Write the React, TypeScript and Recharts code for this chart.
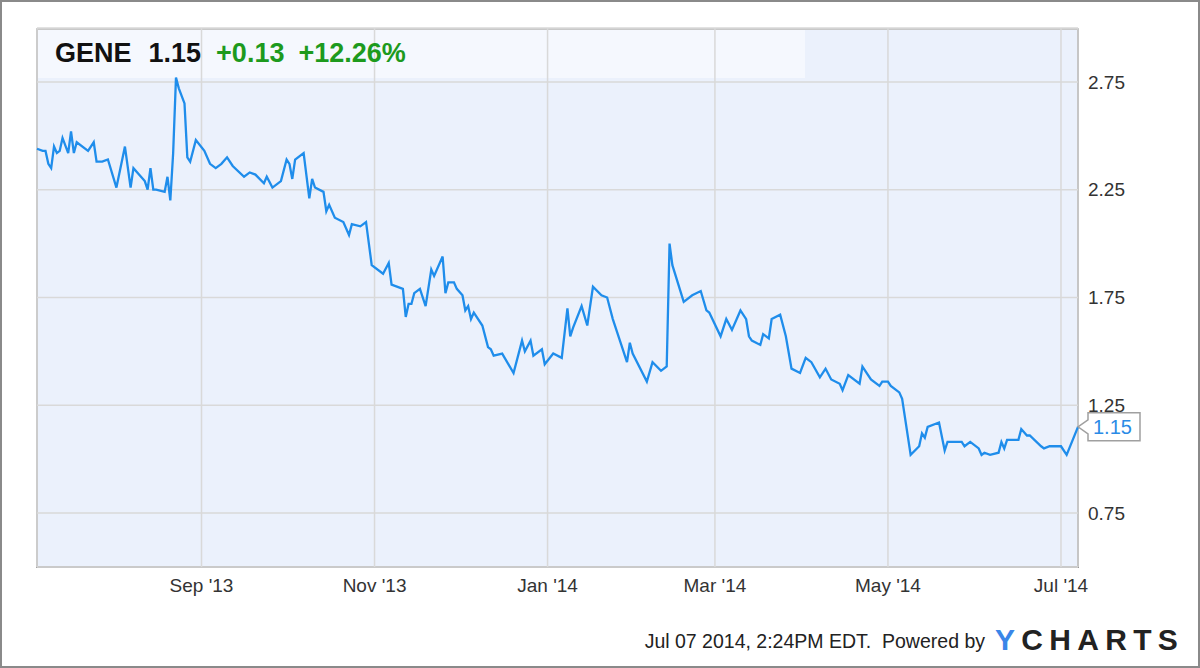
import { LineChart, Line, XAxis, YAxis, CartesianGrid, ReferenceDot } from "recharts";

const dates = [
  "2013-07-05", "2013-07-07", "2013-07-08", "2013-07-09", "2013-07-10", "2013-07-11", "2013-07-12", "2013-07-13",
  "2013-07-14", "2013-07-16", "2013-07-17", "2013-07-18", "2013-07-19", "2013-07-23", "2013-07-25", "2013-07-26",
  "2013-07-28", "2013-07-30", "2013-08-02", "2013-08-05", "2013-08-07", "2013-08-08", "2013-08-12", "2013-08-13",
  "2013-08-14", "2013-08-15", "2013-08-16", "2013-08-19", "2013-08-20", "2013-08-21", "2013-08-22", "2013-08-23",
  "2013-08-24", "2013-08-26", "2013-08-27", "2013-08-28", "2013-08-30", "2013-09-02", "2013-09-04", "2013-09-06",
  "2013-09-08", "2013-09-10", "2013-09-12", "2013-09-16", "2013-09-18", "2013-09-20", "2013-09-23", "2013-09-24",
  "2013-09-26", "2013-09-29", "2013-10-01", "2013-10-02", "2013-10-03", "2013-10-04", "2013-10-07", "2013-10-09",
  "2013-10-10", "2013-10-11", "2013-10-14", "2013-10-15", "2013-10-16", "2013-10-18", "2013-10-21", "2013-10-23",
  "2013-10-24", "2013-10-27", "2013-10-29", "2013-10-31", "2013-11-04", "2013-11-06", "2013-11-07", "2013-11-11",
  "2013-11-12", "2013-11-13", "2013-11-14", "2013-11-15", "2013-11-17", "2013-11-19", "2013-11-21", "2013-11-22",
  "2013-11-25", "2013-11-26", "2013-11-27", "2013-11-29", "2013-11-30", "2013-12-02", "2013-12-03", "2013-12-04",
  "2013-12-05", "2013-12-06", "2013-12-09", "2013-12-11", "2013-12-12", "2013-12-13", "2013-12-16", "2013-12-20",
  "2013-12-23", "2013-12-24", "2013-12-26", "2013-12-27", "2013-12-30", "2013-12-31", "2014-01-03", "2014-01-06",
  "2014-01-08", "2014-01-09", "2014-01-10", "2014-01-13", "2014-01-15", "2014-01-17", "2014-01-20", "2014-01-22",
  "2014-01-24", "2014-01-27", "2014-01-29", "2014-01-30", "2014-01-31", "2014-02-05", "2014-02-07", "2014-02-10",
  "2014-02-12", "2014-02-13", "2014-02-14", "2014-02-18", "2014-02-21", "2014-02-24", "2014-02-26", "2014-02-27",
  "2014-03-03", "2014-03-05", "2014-03-07", "2014-03-10", "2014-03-12", "2014-03-13", "2014-03-14", "2014-03-17",
  "2014-03-18", "2014-03-20", "2014-03-21", "2014-03-24", "2014-03-26", "2014-03-28", "2014-03-31", "2014-04-02",
  "2014-04-04", "2014-04-07", "2014-04-09", "2014-04-11", "2014-04-14", "2014-04-15", "2014-04-17", "2014-04-21",
  "2014-04-22", "2014-04-23", "2014-04-25", "2014-04-28", "2014-04-29", "2014-05-01", "2014-05-02", "2014-05-05",
  "2014-05-06", "2014-05-09", "2014-05-12", "2014-05-13", "2014-05-14", "2014-05-15", "2014-05-19", "2014-05-21",
  "2014-05-22", "2014-05-27", "2014-05-28", "2014-05-30", "2014-06-02", "2014-06-03", "2014-06-04", "2014-06-06",
  "2014-06-09", "2014-06-10", "2014-06-11", "2014-06-12", "2014-06-16", "2014-06-17", "2014-06-19", "2014-06-20",
  "2014-06-24", "2014-06-25", "2014-06-27", "2014-07-01", "2014-07-03", "2014-07-07",
];

const prices = [
  2.44, 2.43, 2.43, 2.37, 2.35, 2.45, 2.42, 2.43,
  2.49, 2.42, 2.52, 2.42, 2.47, 2.43, 2.47, 2.38,
  2.38, 2.39, 2.26, 2.45, 2.26, 2.35, 2.29, 2.25,
  2.35, 2.25, 2.25, 2.24, 2.31, 2.20, 2.42, 2.77,
  2.72, 2.65, 2.40, 2.38, 2.48, 2.43, 2.37, 2.35,
  2.37, 2.40, 2.36, 2.31, 2.33, 2.32, 2.28, 2.31,
  2.26, 2.29, 2.39, 2.37, 2.30, 2.39, 2.42, 2.21,
  2.30, 2.26, 2.24, 2.15, 2.18, 2.12, 2.10, 2.04,
  2.09, 2.08, 2.10, 1.90, 1.86, 1.91, 1.81, 1.79,
  1.66, 1.72, 1.72, 1.77, 1.79, 1.71, 1.88, 1.85,
  1.94, 1.77, 1.82, 1.82, 1.79, 1.76, 1.69, 1.71,
  1.65, 1.68, 1.62, 1.52, 1.51, 1.48, 1.49, 1.40,
  1.55, 1.50, 1.55, 1.48, 1.51, 1.44, 1.49, 1.47,
  1.70, 1.57, 1.61, 1.71, 1.62, 1.80, 1.76, 1.75,
  1.65, 1.53, 1.45, 1.54, 1.49, 1.36, 1.45, 1.41,
  1.43, 2.00, 1.90, 1.73, 1.76, 1.78, 1.69, 1.68,
  1.57, 1.65, 1.60, 1.69, 1.65, 1.57, 1.55, 1.53,
  1.58, 1.56, 1.65, 1.67, 1.57, 1.42, 1.40, 1.47,
  1.45, 1.38, 1.42, 1.37, 1.35, 1.32, 1.39, 1.35,
  1.43, 1.41, 1.37, 1.34, 1.36, 1.36, 1.34, 1.31,
  1.28, 1.02, 1.06, 1.12, 1.10, 1.15, 1.17, 1.04,
  1.08, 1.08, 1.06, 1.08, 1.05, 1.02, 1.03, 1.02,
  1.03, 1.08, 1.05, 1.09, 1.09, 1.14, 1.11, 1.11,
  1.06, 1.05, 1.06, 1.06, 1.02, 1.15,
];

const xTicks = ["2013-09-01", "2013-11-01", "2014-01-01", "2014-03-01", "2014-05-01", "2014-07-01"];
const yTicks = [0.75, 1.25, 1.75, 2.25, 2.75];
const months = ["Jan", "Feb", "Mar", "Apr", "May", "Jun", "Jul", "Aug", "Sep", "Oct", "Nov", "Dec"];

const ticker = "GENE";
const change = "+0.13";
const changePct = "+12.26%";
const stamp = "Jul 07 2014, 2:24PM EDT.  Powered by";

const toTime = (d: string) => Date.parse(d + "T00:00:00Z");

const data = dates.map((d, i) => ({ t: toTime(d), price: prices[i] }));
const last = data[data.length - 1];

const fmtDate = (t: number) => {
  const d = new Date(t);
  return `${months[d.getUTCMonth()]} '${String(d.getUTCFullYear()).slice(2)}`;
};

const font = "'Liberation Sans', Arial, sans-serif";

const PriceTag = (props: any) => {
  const { cx, cy } = props;
  if (cx == null || cy == null) return null;
  const x0 = cx + 10;
  const w = 52;
  const h = 28;
  const d = `M${cx},${cy} L${x0},${cy - 7} L${x0},${cy - h / 2} L${x0 + w},${cy - h / 2} L${x0 + w},${cy + h / 2} L${x0},${cy + h / 2} L${x0},${cy + 7} Z`;
  return (
    <g>
      <path d={d} fill="#fff" stroke="#a0a0a0" strokeWidth={1.5} />
      <text x={x0 + 5} y={cy + 7} fill="#2b8be6" fontSize={20} fontFamily={font}>
        {last.price.toFixed(2)}
      </text>
    </g>
  );
};

export default function App() {
  return (
    <div style={{ position: "absolute", left: 0, top: 0, width: 1200, height: 668, background: "#fff", fontFamily: font }}>
      <div style={{ position: "absolute", inset: 0, border: "2px solid #8a8a8a", boxSizing: "border-box" }} />
      {/* plot background and header band */}
      <div style={{ position: "absolute", left: 36, top: 28, width: 1043, height: 540, background: "#ebf1fc", borderLeft: "2px solid #a8a8a8", borderTop: "2px solid #c8c8c8", borderBottom: "2px solid #a0a0a0", borderRight: "2px solid #909090", boxSizing: "border-box" }} />
      <div style={{ position: "absolute", left: 38, top: 30, width: 767, height: 48, background: "#f5f8fe" }} />
      <div style={{ position: "absolute", left: 0, top: 0 }}>
        <LineChart width={1200} height={668} data={data} margin={{ top: 28, right: 62, bottom: 61, left: 37 }}>
          <CartesianGrid stroke="#d9d9d9" strokeWidth={1.5} />
          <XAxis
            dataKey="t"
            type="number"
            scale="time"
            domain={["dataMin", "dataMax"]}
            ticks={xTicks.map(toTime)}
            tickFormatter={fmtDate}
            axisLine={false}
            tickLine={false}
            tickSize={0}
            tickMargin={12}
            height={40}
            tick={{ fontSize: 19, fill: "#333", fontFamily: font }}
          />
          <YAxis
            orientation="right"
            domain={[0.5, 3]}
            ticks={yTicks}
            allowDataOverflow
            tickFormatter={(v: number) => v.toFixed(2)}
            axisLine={false}
            tickLine={false}
            tickSize={0}
            tickMargin={10}
            width={60}
            tick={{ fontSize: 19, fill: "#333", fontFamily: font, textAnchor: "start" }}
          />
          <Line
            type="linear"
            dataKey="price"
            stroke="#1f8deb"
            strokeWidth={2.3}
            dot={false}
            isAnimationActive={false}
          />
          <ReferenceDot x={last.t} y={last.price} r={0} ifOverflow="visible" shape={PriceTag} />
        </LineChart>
      </div>
      <div style={{ position: "absolute", left: 55, top: 40, fontSize: 27, lineHeight: "26px", fontWeight: "bold", whiteSpace: "pre", color: "#111" }}>
        <span>{ticker}</span>
        <span style={{ marginLeft: 17 }}>{last.price.toFixed(2)}</span>
        <span style={{ marginLeft: 15, color: "#1d9a1d" }}>{change}</span>
        <span style={{ marginLeft: 14, color: "#1d9a1d" }}>{changePct}</span>
      </div>
      <div style={{ position: "absolute", right: 215, top: 631, fontSize: 19.5, lineHeight: "20px", whiteSpace: "pre", color: "#222" }}>
        {stamp}
      </div>
      <div style={{ position: "absolute", left: 995, top: 625, fontSize: 30, lineHeight: "30px", fontWeight: 900, letterSpacing: 6.3, color: "#222" }}>
        <span style={{ color: "#3a86e8" }}>Y</span>CHARTS
      </div>
    </div>
  );
}
